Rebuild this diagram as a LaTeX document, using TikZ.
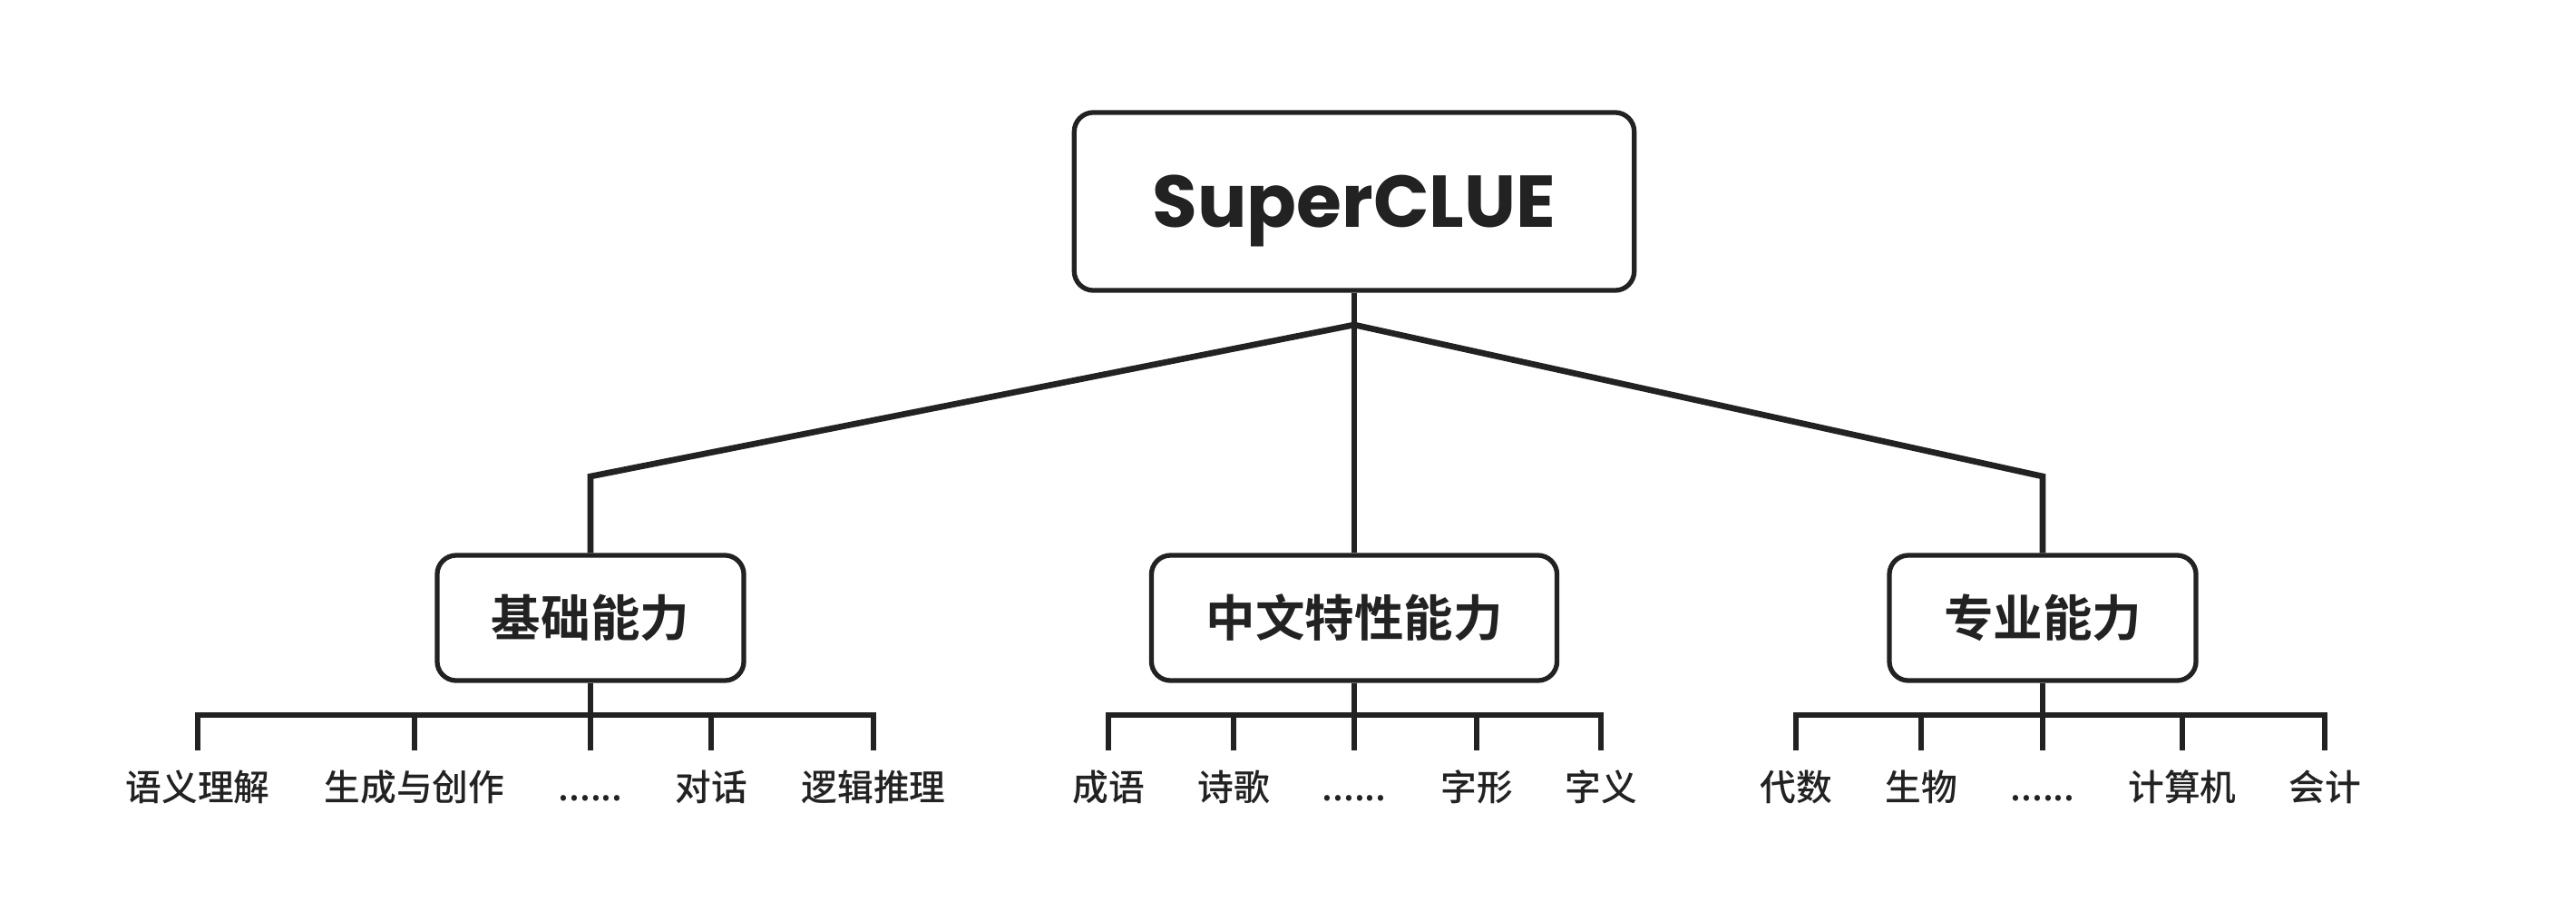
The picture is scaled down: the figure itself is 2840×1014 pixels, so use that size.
\documentclass[tikz,border=0pt]{standalone}
\usepackage{fontspec}
\usepackage{tikz}
\usetikzlibrary{positioning, calc}
\newfontfamily\cjk{Noto Sans CJK SC}[BoldFont={Noto Sans CJK SC Bold}]
\newfontfamily\cjkmed{Noto Sans CJK SC Medium}
\newfontfamily\titlefont{Poppins}
\definecolor{ink}{HTML}{222222}
\tikzset{
    rootbox/.style = {rectangle, draw=ink, fill=white, rounded corners=6pt, minimum width=6.17cm, minimum height=1.96cm, line width=1.5pt, text=ink, text height=16pt, text depth=0pt, font=\titlefont\bfseries\fontsize{23}{27}\selectfont},
    groupbox/.style = {rectangle, draw=ink, fill=white, rounded corners=6pt, minimum height=1.38cm, inner xsep=0.6cm, line width=1.5pt, text=ink, font=\cjk\bfseries\fontsize{15.5}{18}\selectfont},
    leaf/.style = {text=ink, font=\cjkmed\fontsize{11.3}{13}\selectfont, text height=9.6pt, text depth=1.3pt, inner xsep=0pt, inner ysep=6.2pt, outer sep=0pt},
    branch/.style = {draw=ink, line width=1.9pt}
}

\begin{document}
\begin{tikzpicture}[x=0.01cm, y=0.01cm]
    \useasboundingbox (0,0) rectangle (2840,1014);

    % --- NODES ---
    % Root
    \node [rootbox] (root) at (1493,792) {SuperCLUE};

    % Groups
    \node [groupbox] (basic) at (651,333) {基础能力};
    \node [groupbox] (chinese) at (1493,333) {中文特性能力};
    \node [groupbox] (special) at (2252,333) {专业能力};

    % Leaves of basic
    \node [leaf] (semantic) at (218,146) {语义理解};
    \node [leaf] (generate) at (457,146) {生成与创作};
    \node [leaf] (dotsbasic) at (651,146) {......};
    \node [leaf] (dialog) at (784,146) {对话};
    \node [leaf] (logic) at (963,146) {逻辑推理};

    % Leaves of chinese
    \node [leaf] (idiom) at (1222,146) {成语};
    \node [leaf] (poem) at (1360,146) {诗歌};
    \node [leaf] (dotschinese) at (1493,146) {......};
    \node [leaf] (glyph) at (1628,146) {字形};
    \node [leaf] (meaning) at (1765,146) {字义};

    % Leaves of special
    \node [leaf] (algebra) at (1980,146) {代数};
    \node [leaf] (biology) at (2118,146) {生物};
    \node [leaf] (dotsspecial) at (2252,146) {......};
    \node [leaf] (computer) at (2406,146) {计算机};
    \node [leaf] (account) at (2563,146) {会计};

    % Bends
    \coordinate (hub) at (1493,656);
    \coordinate (bendL) at (651,489);
    \coordinate (bendR) at (2252,489);
    \coordinate (bar) at (0,226);

    % --- PATHS ---
    % Root to groups
    \path [branch] (root.south) -- (hub);
    \path [branch] (hub) -- (bendL) -- (basic.north);
    \path [branch] (hub) -- (chinese.north);
    \path [branch] (hub) -- (bendR) -- (special.north);

    % Basic to leaves
    \path [branch] (basic.south) -- (dotsbasic.north);
    \path [branch] (semantic.north) |- (logic.north |- bar) -- (logic.north);
    \path [branch] (generate.north) -- (generate.north |- bar);
    \path [branch] (dialog.north) -- (dialog.north |- bar);

    % Chinese to leaves
    \path [branch] (chinese.south) -- (dotschinese.north);
    \path [branch] (idiom.north) |- (meaning.north |- bar) -- (meaning.north);
    \path [branch] (poem.north) -- (poem.north |- bar);
    \path [branch] (glyph.north) -- (glyph.north |- bar);

    % Special to leaves
    \path [branch] (special.south) -- (dotsspecial.north);
    \path [branch] (algebra.north) |- (account.north |- bar) -- (account.north);
    \path [branch] (biology.north) -- (biology.north |- bar);
    \path [branch] (computer.north) -- (computer.north |- bar);

\end{tikzpicture}
\end{document}
